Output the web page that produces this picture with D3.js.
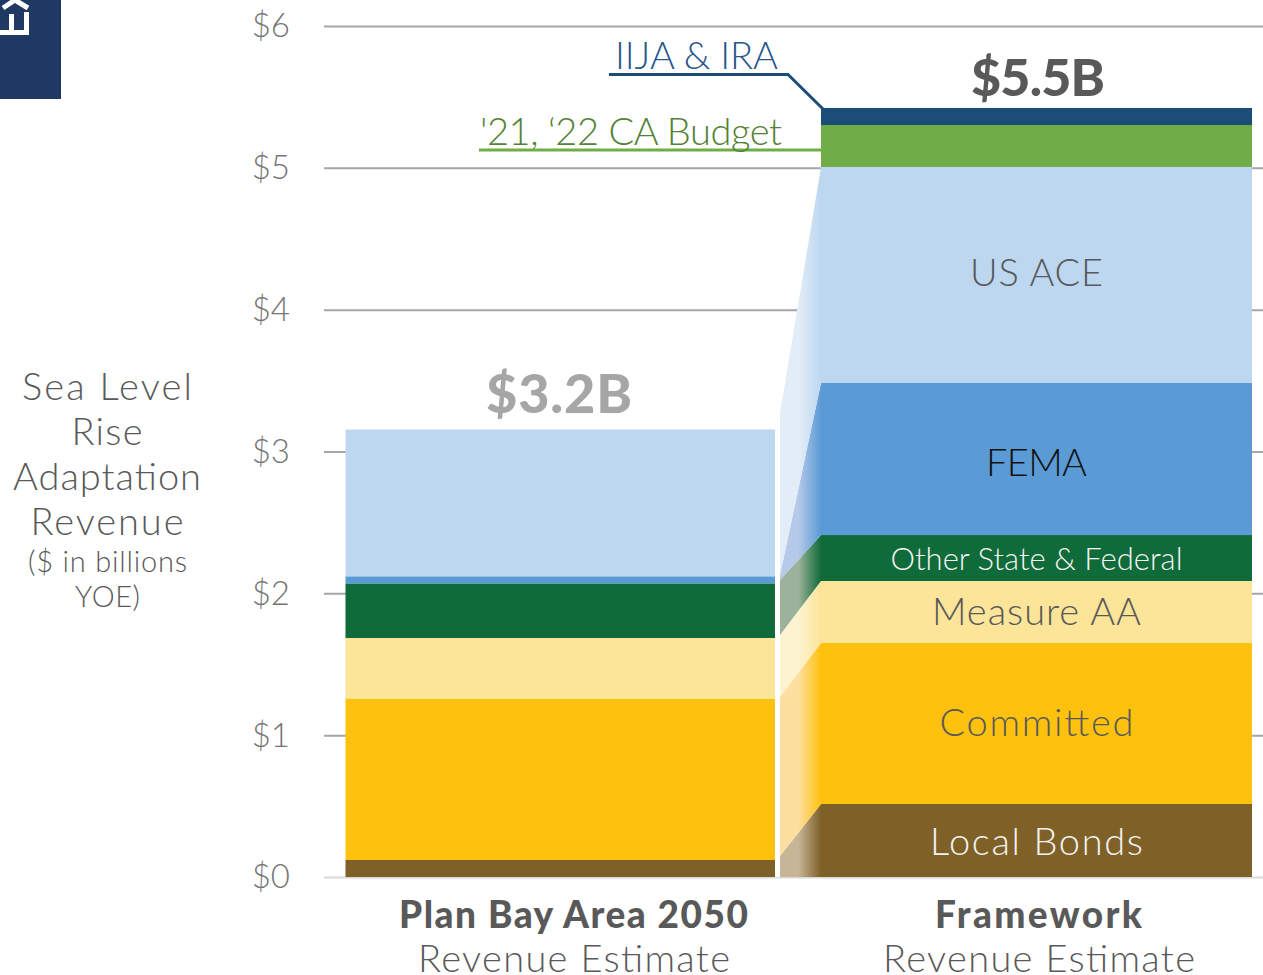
<!DOCTYPE html>
<html><head><meta charset="utf-8">
<script src="https://cdnjs.cloudflare.com/ajax/libs/d3/7.8.5/d3.min.js"></script>
<style>
html,body{margin:0;padding:0;background:#fff;overflow:hidden}
svg{display:block}
text{font-family:Lato,"Open Sans",sans-serif;font-weight:300}
</style></head><body>
<svg id="c" width="1263" height="975"></svg>
<script>
const categories = ["Plan Bay Area 2050", "Framework"];
const categorySub = "Revenue Estimate";
const seriesNames = ["Local Bonds","Committed","Measure AA","Other State & Federal","FEMA","US ACE","'21, ‘22 CA Budget","IIJA & IRA"];
const seriesColors = ["#7f6128","#fec10e","#fce499","#0f6b39","#5b9bd5","#bdd7f0","#70ad47","#1a4e79"];
const fadeColors = ["#c6b596","#fddfa0","#fdf3d0","#9cb29a","#b5c9e8","#e3edf8"];
const planBayArea = [0.12,1.135,0.43,0.385,0.05,1.035,0,0];
const framework = [0.515,1.135,0.437,0.324,1.072,1.523,0.296,0.12];
const connectorLeft = [0.148,1.27,1.706,2.094,2.13,3.27];
const totals = ["$3.2B","$5.5B"];
const tickValues = [0,1,2,3,4,5,6];
const axisTitle = ["Sea Level","Rise","Adaptation","Revenue"];
const axisSub = ["($ in billions","YOE)"];

const svg = d3.select("#c");
const y = d3.scaleLinear().domain([0,6]).range([877,26]);
const x = d3.scaleBand().domain(categories).range([346,1252]).paddingInner(1-431/475);
const leftX = 324, rightX = 1263, gutterL = 775, gutterR = 780;
const x2 = x(categories[1]);

// axis + gridlines
const axis = d3.axisLeft(y).tickValues(tickValues).tickFormat(d=>"$"+d).tickSize(-(rightX-leftX)).tickPadding(34);
const ag = svg.append("g").attr("transform",`translate(${leftX},0)`).call(axis);
ag.select(".domain").remove();
ag.selectAll(".tick line").attr("stroke",d=>d===0?"#d9d9d9":"#a6a6a6").attr("stroke-width",2);
ag.selectAll(".tick text").attr("fill","#757575").attr("font-size",33).attr("dy","0.33em");

// stacks
function stacked(vals){let c=0;return vals.map((v,i)=>{const o={i,y0:c,y1:c+v};c+=v;return o;});}
const defs = svg.append("defs");
fadeColors.forEach((col,i)=>{
  const g = defs.append("linearGradient").attr("id","g"+i).attr("x1",0).attr("x2",1).attr("y1",0).attr("y2",0).attr("gradientUnits","objectBoundingBox");
  g.append("stop").attr("offset",0).attr("stop-color",col);
  g.append("stop").attr("offset",.45).attr("stop-color",col);
  g.append("stop").attr("offset",1).attr("stop-color",seriesColors[i]);
});

// connector
const fw = stacked(framework);
const conn = svg.append("g");
const topPts = connectorLeft.map((v,i)=>({l:v,r:fw[i].y1}));
const area = i => {
  const lo = i===0?{l:0,r:0}:topPts[i-1], hi = topPts[i];
  return d3.line()([[gutterR,y(lo.l)],[x2,y(lo.r)],[x2,y(hi.r)],[gutterR,y(hi.l)]])+"Z";
};
conn.selectAll("path.band").data(topPts).join("path").attr("fill",(d,i)=>`url(#g${i})`).attr("d",(d,i)=>area(i));

// bars
[planBayArea,framework].forEach((vals,k)=>{
  svg.append("g").selectAll("rect").data(stacked(vals).filter(d=>d.y1>d.y0)).join("rect")
    .attr("x",x(categories[k])-(k===0?0.5:0)).attr("width",x.bandwidth())
    .attr("y",d=>y(d.y1)).attr("height",d=>y(d.y0)-y(d.y1))
    .attr("fill",d=>seriesColors[d.i]);
});
const planTop = d3.sum(planBayArea);
svg.append("rect").attr("x",gutterL).attr("width",gutterR-gutterL).attr("y",y(planTop)).attr("height",y(0)-y(planTop)).attr("fill","#fff");

// text helper: fits each label to the width it occupies in the reference
const T = (s,xp,yp,size,fill,w,weight)=>svg.append("text").attr("x",xp).attr("y",yp).attr("font-size",size).attr("fill",fill)
  .attr("text-anchor","middle").attr("textLength",w).attr("lengthAdjust","spacing").style("font-weight",weight||300).text(s);

// callouts
svg.append("path").attr("d",d3.line()([[609,74.5],[788,74.5],[823,y(fw[7].y1)+1]])).attr("fill","none").attr("stroke",seriesColors[7]).attr("stroke-width",3);
svg.append("path").attr("d",d3.line()([[479,150],[x2,150]])).attr("fill","none").attr("stroke",seriesColors[6]).attr("stroke-width",3);
svg.append("rect").attr("x",x2).attr("width",x.bandwidth()).attr("y",y(fw[7].y1)).attr("height",y(fw[7].y0)-y(fw[7].y1)).attr("fill",seriesColors[7]);
T(seriesNames[7],696.5,69,38,"#26568a",163);
T(seriesNames[6],631,145,38,"#548235",302);

// totals
T(totals[0],559,413,54,"#a6a6a6",146,900);
T(totals[1],1038,96,52,"#595959",134,900);

// segment labels
const cx2 = x2 + x.bandwidth()/2;
T(seriesNames[5],cx2,286,38,"#595959",133);
T(seriesNames[4],cx2,476,38,"#111",101);
T(seriesNames[3],cx2,570,31,"#f5f5f5",292);
T(seriesNames[2],cx2,625,38,"#595959",209);
T(seriesNames[1],cx2,736,38,"#595959",194);
T(seriesNames[0],cx2,855,38,"#f2f2f2",213);

// category labels
T(categories[0],573.5,928,37,"#595959",349,900);
T(categorySub,574,972,38,"#595959",312);
T(categories[1],1038.5,928,37,"#595959",207,900);
T(categorySub,1039,972,38,"#595959",312);

// axis title
[170,71,188,153].forEach((w,i)=>T(axisTitle[i],107,400+45*i,38,"#595959",w));
[159,65].forEach((w,i)=>T(axisSub[i],107.5,572+35*i,29,"#595959",w));

// home button
svg.append("rect").attr("width",61).attr("height",99).attr("fill","#1f3864");
svg.append("path").attr("d","M3,8 L15,0 L28,8").attr("fill","none").attr("stroke","#fff").attr("stroke-width",5);
svg.append("path").attr("d","M-2,32.5 L26.5,32.5 L26.5,12 M11.5,14 L11.5,32").attr("fill","none").attr("stroke","#fff").attr("stroke-width",5);
</script></body></html>
